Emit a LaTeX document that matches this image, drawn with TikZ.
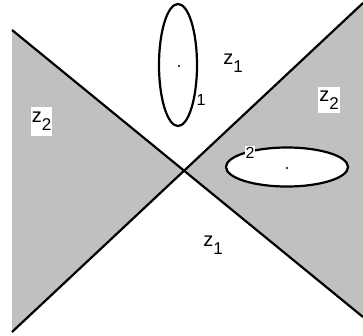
\documentclass[tikz,border=0pt]{standalone}
\usepackage{fontspec}
\setmainfont{Liberation Sans}
\definecolor{regiongray}{RGB}{192,192,192}
\tikzset{
  bound/.style={line width=2.2pt},
  lab/.style={inner sep=0pt, font=\fontsize{20}{22}\selectfont},
  wlab/.style={lab, fill=white, inner sep=1pt},
  dotmark/.style={fill=black, circle, inner sep=0pt, minimum size=2.2pt}
}
\newcommand{\zsub}[1]{z\raisebox{-0.38em}{\fontsize{17}{17}\selectfont #1}}
\begin{document}
\begin{tikzpicture}[x=1pt,y=-1pt]
\useasboundingbox (0,0) rectangle (363,335);
\coordinate (ul) at (12,30);
\coordinate (ll) at (12,332);
\coordinate (ur) at (363,3);
\coordinate (lr) at (363,317);
\coordinate (c) at (184,171);
\fill[regiongray] (ul) -- (c) -- (ll) -- cycle;
\fill[regiongray] (ur) -- (c) -- (lr) -- cycle;
\draw[bound] (ul) -- (lr);
\draw[bound] (ll) -- (ur);
% ellipse 1
\draw[bound] (178,65) ellipse [x radius=19, y radius=61];
\node[dotmark] (d1) at (179,66) {};
\node[lab,font=\fontsize{16}{16}\selectfont] (one) at (201,100) {1};
% ellipse 2
\draw[bound, fill=white] (287,167) ellipse [x radius=61, y radius=19.5];
\node[dotmark] (d2) at (287,168) {};
\node[wlab,font=\fontsize{16}{16}\selectfont] (two) at (250,153) {2};
% region labels
\node[lab] (za) at (233,63) {\zsub{1}};
\node[lab] (zb) at (213,245) {\zsub{1}};
\node[wlab, minimum height=29pt, minimum width=21pt] (zc) at (41.5,121) {\zsub{2}};
\node[wlab, minimum height=26pt, minimum width=20pt] (zd) at (329,100) {\zsub{2}};
\end{tikzpicture}
\end{document}
